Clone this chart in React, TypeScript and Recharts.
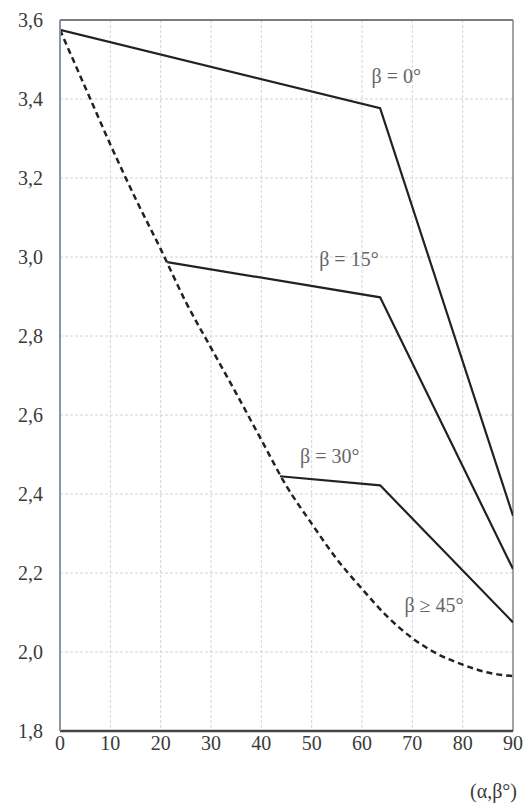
import React from 'react';
import { LineChart, Line, XAxis, YAxis, CartesianGrid, ReferenceLine, ReferenceDot } from 'recharts';

const xTicks = [0, 10, 20, 30, 40, 50, 60, 70, 80, 90];
const yTicks = [1.8, 2.0, 2.2, 2.4, 2.6, 2.8, 3.0, 3.2, 3.4, 3.6];

const beta0 = [
  { x: 0, y: 3.575 },
  { x: 63.6, y: 3.377 },
  { x: 90, y: 2.345 },
];
const beta15 = [
  { x: 21.3, y: 2.987 },
  { x: 63.6, y: 2.898 },
  { x: 90, y: 2.21 },
];
const beta30 = [
  { x: 43.7, y: 2.445 },
  { x: 63.6, y: 2.422 },
  { x: 90, y: 2.075 },
];
const beta45 = [
  { x: 0, y: 3.575 },
  { x: 5, y: 3.43 },
  { x: 10, y: 3.285 },
  { x: 15, y: 3.148 },
  { x: 20, y: 3.02 },
  { x: 25, y: 2.886 },
  { x: 30, y: 2.77 },
  { x: 35, y: 2.655 },
  { x: 40, y: 2.537 },
  { x: 45, y: 2.42 },
  { x: 50, y: 2.325 },
  { x: 55, y: 2.235 },
  { x: 60, y: 2.16 },
  { x: 65, y: 2.09 },
  { x: 70, y: 2.035 },
  { x: 75, y: 1.995 },
  { x: 80, y: 1.968 },
  { x: 85, y: 1.948 },
  { x: 90, y: 1.939 },
];

const annotations = [
  { x: 66.8, y: 3.458, text: 'β = 0°' },
  { x: 57.4, y: 2.996, text: 'β = 15°' },
  { x: 53.6, y: 2.497, text: 'β = 30°' },
  { x: 74.3, y: 2.118, text: 'β ≥ 45°' },
];

const FONT = 'Liberation Serif';
const FS = 20;

export default function App() {
  return (
    <div style={{ position: 'absolute', left: 0, top: 0, background: '#fff' }}>
      <LineChart width={525} height={805} margin={{ top: 20, right: 12, bottom: 0, left: 0 }}>
        <CartesianGrid stroke="#d4d4d4" strokeDasharray="3 2" strokeWidth={1} />
        <XAxis
          dataKey="x"
          type="number"
          domain={[0, 90]}
          ticks={xTicks}
          height={74}
          tickLine={false}
          tickSize={5}
          tickMargin={0}
          axisLine={{ stroke: '#444', strokeWidth: 2.5 }}
          tick={{ fill: '#3a3a3a', fontSize: FS, fontFamily: FONT }}
          allowDataOverflow
          label={{
            content: (p: any) => (
              <text
                x={p.viewBox.x + p.viewBox.width + 4}
                y={p.viewBox.y + 67}
                textAnchor="end"
                fill="#3a3a3a"
                fontSize={FS}
                fontFamily={FONT}
              >
                (α,β°)
              </text>
            ),
          }}
        />
        <YAxis
          type="number"
          domain={[1.8, 3.6]}
          ticks={yTicks}
          width={60}
          tickLine={false}
          tickSize={6}
          tickMargin={11}
          axisLine={{ stroke: '#8896a4', strokeWidth: 2 }}
          tick={{ fill: '#3a3a3a', fontSize: FS, fontFamily: FONT }}
          tickFormatter={(v: number) => v.toFixed(1).replace('.', ',')}
          allowDataOverflow
        />
        <ReferenceLine y={3.6} stroke="#555" strokeWidth={1.5} />
        <ReferenceLine x={90} stroke="#888" strokeWidth={1.5} />
        <Line data={beta45} dataKey="y" type="monotone" stroke="#222" strokeWidth={2.5} strokeDasharray="6 4" dot={false} isAnimationActive={false} />
        <Line data={beta0} dataKey="y" type="linear" stroke="#222" strokeWidth={2.2} dot={false} isAnimationActive={false} />
        <Line data={beta15} dataKey="y" type="linear" stroke="#222" strokeWidth={2.2} dot={false} isAnimationActive={false} />
        <Line data={beta30} dataKey="y" type="linear" stroke="#222" strokeWidth={2.2} dot={false} isAnimationActive={false} />
        {annotations.map((a) => (
          <ReferenceDot
            key={a.text}
            x={a.x}
            y={a.y}
            r={0}
            fill="none"
            stroke="none"
            label={{ value: a.text, position: 'center', fill: '#666', fontSize: FS, fontFamily: FONT }}
          />
        ))}
      </LineChart>
    </div>
  );
}
